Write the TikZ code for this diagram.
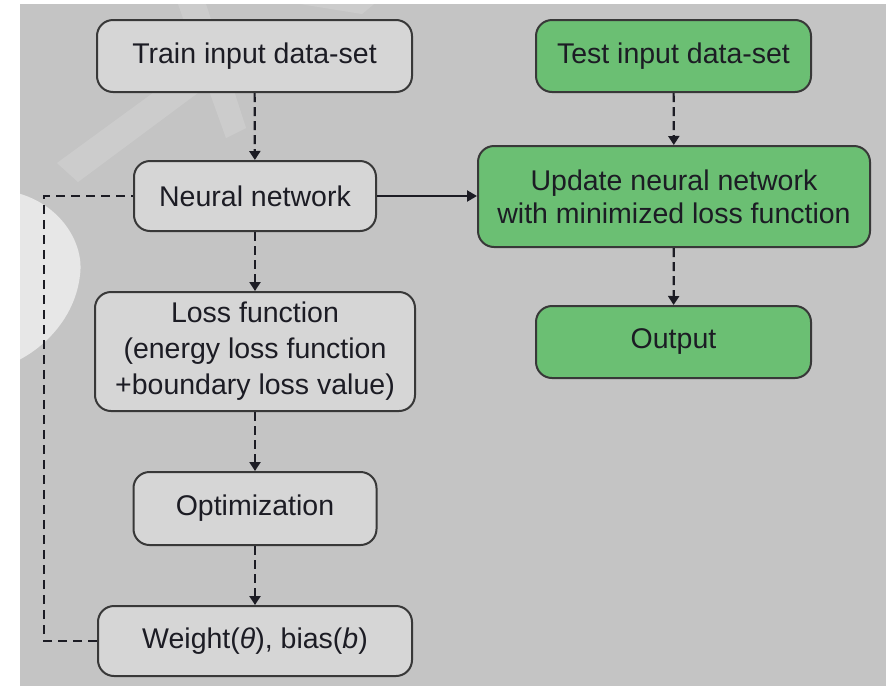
\documentclass[tikz,border=0pt]{standalone}
\usepackage{fontspec}
\setmainfont{Liberation Sans}
\usetikzlibrary{arrows.meta}

\definecolor{bggray}{HTML}{C4C4C4}
\definecolor{boxgray}{HTML}{D6D6D6}
\definecolor{boxgreen}{HTML}{6BBF73}
\definecolor{edge}{HTML}{383838}
\definecolor{ink}{HTML}{1C1C24}

\tikzset{
  flowbox/.style={draw=edge, line width=2pt, rounded corners=16pt,
    inner sep=0pt, align=center, text=ink,
    font=\fontsize{28.5}{35}\selectfont},
  graybox/.style={flowbox, fill=boxgray},
  greenbox/.style={flowbox, fill=boxgreen},
  dashflow/.style={draw=ink, line width=2.2pt, dash pattern=on 9pt off 5pt,
    -{Triangle[length=9pt,width=11pt]}},
  solidflow/.style={draw=ink, line width=2.2pt,
    -{Triangle[length=10pt,width=11pt]}},
  loopline/.style={draw=ink, line width=2.2pt, dash pattern=on 9pt off 6pt}
}

\begin{document}
\begin{tikzpicture}[x=1pt, y=-1pt]
  \useasboundingbox (0,0) rectangle (886,686);
  \fill[white] (0,0) rectangle (886,686);
  \fill[bggray] (20,4) rectangle (886,686);

  % faint lettering of the background stamp
  \begin{scope}[white]
    \fill[opacity=0.6] (0,190)
      .. controls (55,195) and (85,240) .. (80,275)
      .. controls (75,320) and (40,355) .. (0,368) -- cycle;
    \fill[opacity=0.15] (57,163) -- (78,182) -- (222,75) -- (205,55) -- cycle;
    \fill[opacity=0.15] (178,4) -- (206,4) -- (246,128) -- (226,138) -- cycle;
    \fill[opacity=0.15] (300,4) -- (374,4) -- (362,14) -- cycle;
  \end{scope}

  % left column: training path
  \node[graybox, minimum width=315pt, minimum height=72pt] (train) at (254.5,56) {Train input data-set};
  \node[graybox, minimum width=242pt, minimum height=70pt] (nn) at (255,196) {Neural network};
  \node[graybox, minimum width=320pt, minimum height=119pt,
        font=\fontsize{28.5}{36}\selectfont] (loss) at (255,351.5)
    {Loss function\\(energy loss function\\+boundary loss value)};
  \node[graybox, minimum width=243pt, minimum height=73pt] (opt) at (255,508.5) {Optimization};
  \node[graybox, minimum width=314pt, minimum height=70pt] (weight) at (255,641)
    {Weight({\itshape θ}), bias({\itshape b})};

  % right column: testing path
  \node[greenbox, minimum width=275pt, minimum height=72pt] (test) at (673.5,56) {Test input data-set};
  \node[greenbox, minimum width=392pt, minimum height=101pt,
        font=\fontsize{28.5}{33}\selectfont] (update) at (674,196.5)
    {Update neural network\\with minimized loss function};
  \node[greenbox, minimum width=275pt, minimum height=72pt] (output) at (673.5,342) {Output};

  % connectors
  \draw[dashflow] (train) -- (nn);
  \draw[dashflow] (nn) -- (loss);
  \draw[dashflow] (loss) -- (opt);
  \draw[dashflow] (opt) -- (weight);
  \draw[dashflow] (test) -- (update);
  \draw[dashflow] (update) -- (output);
  \draw[solidflow] (nn.east) -- (update.west |- nn.east);

  % feedback loop from the parameters back to the network
  \coordinate (loopx) at (44,0);
  \draw[loopline] (weight.west) -- (weight.west -| loopx) -- (nn.west -| loopx) -- (nn.west);
\end{tikzpicture}
\end{document}
